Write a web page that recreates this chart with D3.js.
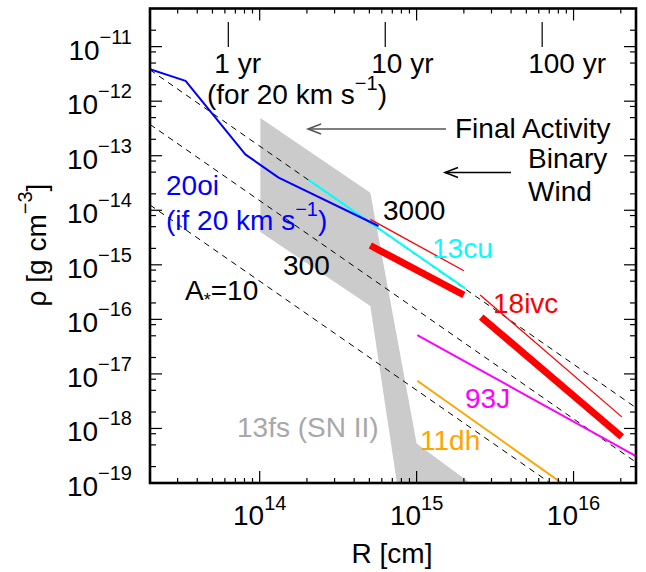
<!DOCTYPE html>
<html>
<head>
<meta charset="utf-8">
<script src="https://cdn.jsdelivr.net/npm/d3@7"></script>
<style>
  html, body { margin: 0; padding: 0; background: #fff; }
  svg text { font-family: "Liberation Sans", Arial, Helvetica, sans-serif; }
</style>
</head>
<body>
<svg id="chart" width="646" height="572"></svg>
<script>
// ---- data: circumstellar density profiles rho(R) ----
// SN 2020oi (assuming 20 km/s wind)
const sn20oi = [[2e13, 3.86e-12], [3.37e13, 2.36e-12], [8.1e13, 1.06e-13], [1.32e14, 3.96e-14], [5.72e14, 5.15e-15]];
// SN 2013cu
const sn13cu = [[2.05e14, 3.6e-14], [2.04e15, 3.7e-16]];
// SN 2018ivc: thin (upper) and thick (lower) segments
const sn18ivcThin = [[[5.07e14, 6.8e-15], [2.0e15, 7.8e-16]], [[2.54e15, 2.8e-16], [2.03e16, 1.63e-18]]];
const sn18ivcThick = [[[5.07e14, 2.26e-15], [2.0e15, 2.8e-16]], [[2.58e15, 1.1e-16], [2.03e16, 7.0e-19]]];
// SN 1993J
const sn93J = [[1.01e15, 5.15e-17], [2.5e16, 3.1e-19]];
// SN 2011dh
const sn11dh = [[1.01e15, 7.5e-18], [8.4e15, 1.0e-19]];
// SN 2013fs (SN II) allowed region
const sn13fs = [[1.01e14, 4.9e-13], [5.07e14, 2.1e-14], [1.0e15, 5.3e-19], [2.19e15, 1.0e-19],
                [7.49e14, 1.0e-19], [5.07e14, 1.75e-16], [1.01e14, 4.0e-15]];
// steady wind lines for A* = 10, 300, 3000
const windLabels = ["10", "300", "3000"];
const windLines = [
  [[2e13, 1.25e-14], [7.1e15, 1.0e-19]],
  [[2e13, 3.75e-13], [2.5e16, 2.4e-19]],
  [[2e13, 3.75e-12], [2.5e16, 2.4e-18]]
];
// elapsed time markers for a 20 km/s wind
const timeLabels = ["1 yr", "10 yr", "100 yr"];
const timeRadii = [6.31e13, 6.31e14, 6.31e15];
// axis ticks
const xMajorExp = [14, 15, 16];
const yMajorExp = [-19, -18, -17, -16, -15, -14, -13, -12, -11];

// ---- layout ----
const svg = d3.select("#chart");
const x = d3.scaleLog().domain([2e13, 2.5e16]).range([150, 636]);
const y = d3.scaleLog().domain([1e-19, 5e-11]).range([483, 8.5]);
const X0 = x.range()[0], X1 = x.range()[1], Y0 = y.range()[0], Y1 = y.range()[1];
const FS = 28, SUP = 20;

svg.append("defs").append("clipPath").attr("id", "plotclip")
  .append("rect").attr("x", X0).attr("y", Y1).attr("width", X1 - X0).attr("height", Y0 - Y1);

const plot = svg.append("g").attr("clip-path", "url(#plotclip)");
const line = d3.line().x(d => x(d[0])).y(d => y(d[1]));

// 13fs shaded region
plot.append("path").attr("d", line(sn13fs) + "Z").attr("fill", "#cbcbcb");

// wind lines
windLines.forEach(seg => {
  plot.append("path").attr("d", line(seg)).attr("fill", "none")
    .attr("stroke", "#000").attr("stroke-width", 1).attr("stroke-dasharray", "6,5");
});

// SN profiles
function drawLine(pts, color, w) {
  plot.append("path").attr("d", line(pts)).attr("fill", "none")
    .attr("stroke", color).attr("stroke-width", w).attr("stroke-linecap", "butt")
    .attr("stroke-linejoin", "round");
}
drawLine(sn11dh, "#ffa500", 2);
drawLine(sn93J, "#ff00ff", 2);
sn18ivcThin.forEach(s => drawLine(s, "#ff0000", 1.3));
sn18ivcThick.forEach(s => drawLine(s, "#ff0000", 7));
drawLine(sn13cu, "#00ffff", 2);
drawLine(sn20oi, "#0000ff", 2);

// ---- frame and ticks ----
const axes = svg.append("g").attr("stroke", "#000");
function decadeMinors(lo, hi, mults) {
  const out = [];
  for (let e = lo; e <= hi; e++) mults.forEach(m => out.push(m * Math.pow(10, e)));
  return out;
}
const xDom = x.domain(), yDom = y.domain();
const inX = v => v > xDom[0] * 1.001 && v < xDom[1] * 0.999;
const inY = v => v > yDom[0] * 1.001 && v < yDom[1] * 0.999;
const xMinor = decadeMinors(13, 16, [2, 3, 4, 5, 6, 7, 8, 9]).filter(inX);
const xMajor = xMajorExp.map(e => Math.pow(10, e));
const yMinor = decadeMinors(-20, -11, [2, 5, 8]).filter(inY);
const yMajor = yMajorExp.map(e => Math.pow(10, e)).filter(inY);

function vTicks(vals, len) {
  vals.forEach(v => {
    axes.append("line").attr("x1", x(v)).attr("x2", x(v)).attr("y1", Y0).attr("y2", Y0 - len).attr("stroke-width", 1.2);
    axes.append("line").attr("x1", x(v)).attr("x2", x(v)).attr("y1", Y1).attr("y2", Y1 + len).attr("stroke-width", 1.2);
  });
}
function hTicks(vals, len) {
  vals.forEach(v => {
    axes.append("line").attr("y1", y(v)).attr("y2", y(v)).attr("x1", X0).attr("x2", X0 + len).attr("stroke-width", 1.2);
    axes.append("line").attr("y1", y(v)).attr("y2", y(v)).attr("x1", X1).attr("x2", X1 - len).attr("stroke-width", 1.2);
  });
}
vTicks(xMinor, 5);
vTicks(xMajor, 12);
hTicks(yMinor, 6);
hTicks(yMajor, 12);

axes.append("rect").attr("x", X0).attr("y", Y1).attr("width", X1 - X0).attr("height", Y0 - Y1)
  .attr("fill", "none").attr("stroke-width", 2.6);

// time markers along the top
timeRadii.forEach((r, i) => {
  axes.append("line").attr("x1", x(r)).attr("x2", x(r)).attr("y1", 22).attr("y2", 47).attr("stroke-width", 1.2);
  svg.append("text").attr("x", x(r) - 14).attr("y", 73).attr("font-size", FS).text(timeLabels[i]);
});

// tick labels
const txt = svg.append("g").attr("fill", "#000");
xMajorExp.forEach(e => {
  const t = txt.append("text").attr("x", x(Math.pow(10, e))).attr("y", 525)
    .attr("text-anchor", "middle").attr("font-size", FS);
  t.append("tspan").text("10");
  t.append("tspan").attr("font-size", SUP).attr("dy", -15).text(String(e));
});
yMajorExp.forEach(e => {
  const t = txt.append("text").attr("x", 132).attr("y", y(Math.pow(10, e)) + 13)
    .attr("text-anchor", "end").attr("font-size", FS);
  t.append("tspan").text("10");
  t.append("tspan").attr("font-size", SUP).attr("dy", -16).text("\u2212" + String(-e));
});

// axis titles
txt.append("text").attr("x", 392).attr("y", 563).attr("text-anchor", "middle")
  .attr("font-size", FS).text("R [cm]");
const yl = txt.append("text").attr("transform", "translate(46,245) rotate(-90)")
  .attr("text-anchor", "middle").attr("font-size", FS);
yl.append("tspan").text("\u03c1 [g cm");
yl.append("tspan").attr("font-size", SUP).attr("dy", -14).text("\u22123");
yl.append("tspan").attr("dy", 14).text("]");

// annotations
function label(px, py, color, parts) {
  const t = svg.append("text").attr("x", px).attr("y", py).attr("font-size", FS).attr("fill", color);
  parts.forEach(p => {
    const s = t.append("tspan").text(p.t);
    if (p.sup) s.attr("font-size", SUP).attr("dy", -14);
    if (p.after) s.attr("dy", 14);
  });
  return t;
}
label(207, 104, "#000", [{t: "(for 20 km s"}, {t: "\u22121", sup: true}, {t: ")", after: true}]);
label(455, 138, "#000", [{t: "Final Activity"}]);
label(528, 168, "#000", [{t: "Binary"}]);
label(528, 201, "#000", [{t: "Wind"}]);
label(166, 195, "#0000ff", [{t: "20oi"}]);
label(166, 230, "#0000ff", [{t: "(if 20 km s"}, {t: "\u22121", sup: true}, {t: ")", after: true}]);
label(383, 220, "#000", [{t: windLabels[2]}]);
label(283, 275, "#000", [{t: windLabels[1]}]);
const aLab = svg.append("text").attr("x", 185).attr("y", 300).attr("font-size", FS);
aLab.append("tspan").text("A");
aLab.append("tspan").attr("font-size", 18).attr("dy", 6).text("*");
aLab.append("tspan").attr("dy", -6).text("=" + windLabels[0]);
label(432, 258, "#00ffff", [{t: "13cu"}]);
label(493, 313, "#ff0000", [{t: "18ivc"}]);
label(465, 408, "#ff00ff", [{t: "93J"}]);
label(420, 450, "#ffa500", [{t: "11dh"}]);
label(237, 437, "#a8a8a8", [{t: "13fs (SN II)"}]);

// arrows pointing toward smaller radii
function arrow(x1, x2, yy, color) {
  const g = svg.append("g").attr("stroke", color).attr("stroke-width", 1.5).attr("fill", "none");
  g.append("line").attr("x1", x1).attr("x2", x2).attr("y1", yy).attr("y2", yy);
  g.append("path").attr("d", `M${x2 + 13},${yy - 5} L${x2},${yy} L${x2 + 13},${yy + 5}`);
}
arrow(446, 308, 129, "#555");
arrow(511, 445, 172.5, "#000");
</script>
</body>
</html>
